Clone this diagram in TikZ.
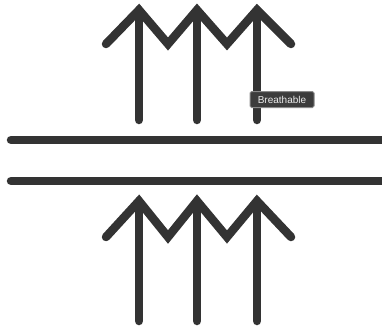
\documentclass[tikz,border=0pt]{standalone}
\usepackage{fontspec}
\setsansfont{Liberation Sans}
\usepackage{xcolor}
\usetikzlibrary{positioning}
\definecolor{icongray}{HTML}{333333}
\definecolor{tipfill}{HTML}{3C3C3C}
\definecolor{tipedge}{HTML}{8A8A8A}
\tikzset{
  stroke/.style={draw=icongray, line width=8.5pt, line cap=round, line join=miter},
  tooltip/.style={rectangle, draw=tipedge, fill=tipfill, text=white!92!black,
                  rounded corners=1.5pt, line width=1pt, minimum width=64pt,
                  minimum height=16pt, inner sep=1pt, font=\sffamily\fontsize{10}{11}\selectfont},
}

\begin{document}
\begin{tikzpicture}[x=1pt, y=-1pt]
  \useasboundingbox (0,0) rectangle (382,329);

  % upward arrows above the membrane
  \foreach \ax in {139,197,257}
    \draw[stroke] (\ax,120) -- (\ax,10);
  \draw[stroke] (106,44) -- (139,10) -- (168,44) -- (197,10) -- (227,44) -- (257,10) -- (291,44);

  % the membrane
  \draw[stroke] (11,140) -- (390,140);
  \draw[stroke] (11,181) -- (390,181);

  % upward arrows below the membrane
  \foreach \ax in {139,197,257}
    \draw[stroke] (\ax,321) -- (\ax,201);
  \draw[stroke] (106,237) -- (139,201) -- (168,237) -- (197,201) -- (227,237) -- (257,201) -- (291,237);

  \node[tooltip] (tip) at (282,99.5) {Breathable};
\end{tikzpicture}
\end{document}
